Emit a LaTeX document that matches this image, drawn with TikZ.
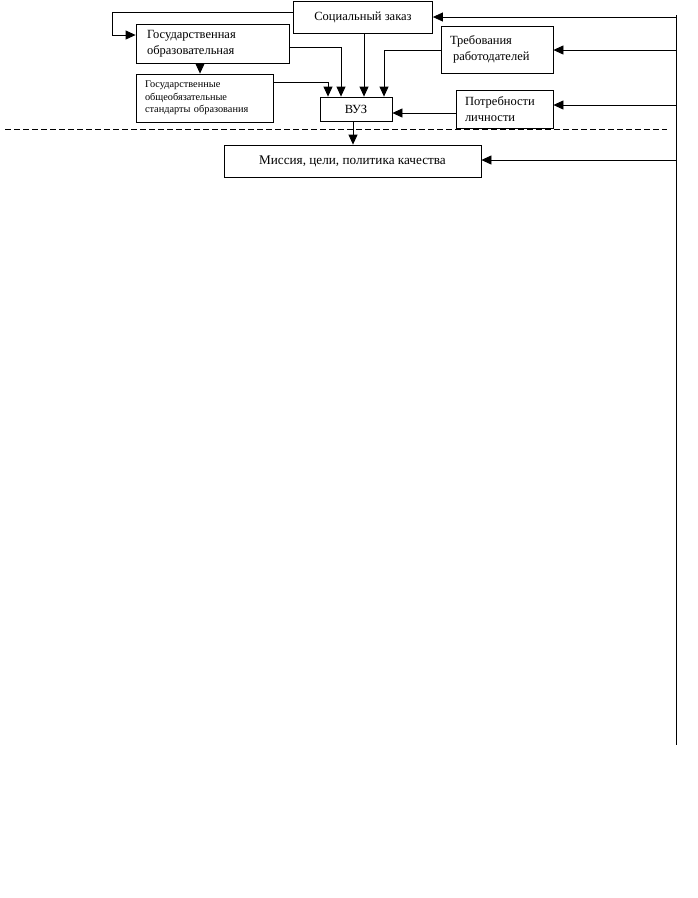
\documentclass[tikz,border=0pt]{standalone}
\usepackage{fontspec}
\setmainfont{Liberation Serif}
\usetikzlibrary{arrows.meta}
\begin{document}
\begin{tikzpicture}[x=1pt,y=-1pt, line width=0.8pt,
  box/.style={draw, line width=0.8pt, inner sep=0pt, font=\fontsize{12.5}{15.5}\selectfont},
  arr/.style={-{Triangle[length=10pt,width=9pt]}},
  dline/.style={dash pattern=on 6pt off 3pt, line width=0.7pt}]
\useasboundingbox (0,0) rectangle (698,898);
% boxes
\node[box, minimum width=139, minimum height=32] (soc) at (363,17) {Социальный заказ};
\node[box, minimum width=153, minimum height=39, text width=131, align=left] (gos) at (212.5,43.5) {Государственная\\образовательная};
\node[box, minimum width=137, minimum height=48, text width=119, align=left, font=\fontsize{10.3}{12.5}\selectfont] (std) at (204.5,98) {Государственные\\общеобязательные\\стандарты образования};
\node[box, minimum width=72, minimum height=24] (vuz) at (356,109) {ВУЗ};
\node[box, minimum width=112, minimum height=47, text width=94, align=left] (treb) at (497,49.5) {Требования\\\hspace*{3pt}работодателей};
\node[box, minimum width=97, minimum height=38, text width=79, align=left] (potr) at (504.5,109) {Потребности\\личности};
\node[box, minimum width=257, minimum height=32, font=\fontsize{13.2}{15.5}\selectfont] (mis) at (352.5,161) {Миссия, цели, политика качества};
% right line
\coordinate (rtop) at (676,15);
\coordinate (rbot) at (676,745);
\draw (rtop) -- (rbot);
\coordinate (r1) at (676,17);
\coordinate (r2) at (676,50);
\coordinate (r3) at (676,105);
\coordinate (r4) at (676,160);
\draw[arr] (r1) -- (r1 -| soc.east);
\draw[arr] (r2) -- (r2 -| treb.east);
\draw[arr] (r3) -- (r3 -| potr.east);
\draw[arr] (r4) -- (r4 -| mis.east);
% inner connectors
\draw[arr] (soc.west |- 0,12) -- (112,12) -- (112,35) -- (gos.west |- 0,35);
\draw[arr] (soc.south -| 364,0) -- (vuz.north -| 364,0);
\draw[arr] (gos.east |- 0,47) -| ([xshift=-15pt]vuz.north);
\draw[arr] (std.east |- 0,82) -| ([xshift=-28pt]vuz.north);
\draw[arr] (treb.west |- 0,50) -| ([xshift=28pt]vuz.north);
\draw[arr] ([xshift=-12.5pt]gos.south) -- ([xshift=-4.5pt]std.north);
\draw[arr] (potr.west |- 0,113) -- (vuz.east |- 0,113);
\draw[arr] ([xshift=-3pt]vuz.south) -- ([xshift=-3pt]vuz.south |- mis.north);
% dashed separator
\coordinate (d1) at (5,129);
\coordinate (d2) at (667,129);
\draw[dline] (d1) -- (d2);
\end{tikzpicture}
\end{document}
